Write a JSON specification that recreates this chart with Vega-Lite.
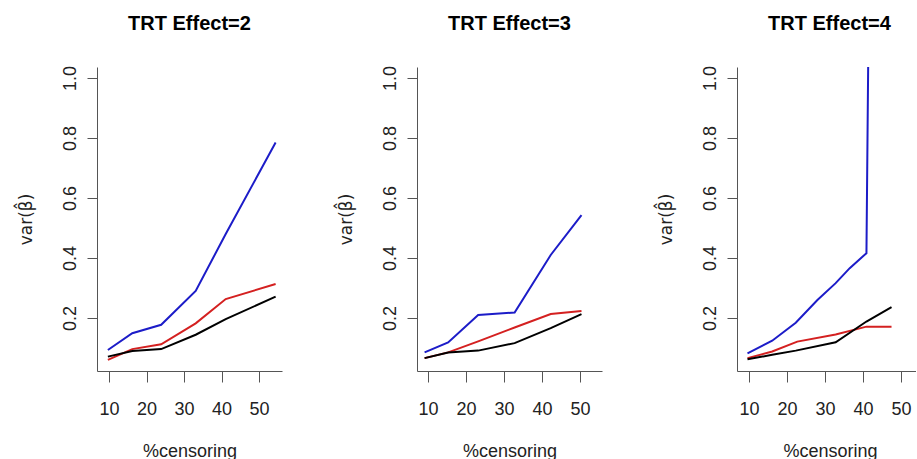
{
  "$schema": "https://vega.github.io/schema/vega-lite/v6.json",
  "background": "white",
  "padding": {"left": 17, "top": 13, "right": 0, "bottom": 0},
  "config": {
    "view": {"stroke": null},
    "font": "Liberation Sans",
    "axis": {
      "grid": false,
      "domainColor": "#555555",
      "tickColor": "#555555",
      "domainWidth": 1,
      "tickWidth": 1,
      "labelFont": "Liberation Sans",
      "labelFontSize": 18,
      "labelColor": "#222222",
      "titleFont": "Liberation Sans",
      "titleFontSize": 18,
      "titleFontWeight": "normal",
      "titleColor": "#222222"
    },
    "axisY": {"titleFont": "DejaVu Sans", "titleFontSize": 17},
    "title": {
      "font": "Liberation Sans",
      "fontSize": 20,
      "fontWeight": "bold",
      "color": "#000000",
      "anchor": "middle",
      "frame": "group",
      "baseline": "alphabetic",
      "offset": 32
    }
  },
  "datasets": {
    "d": [
      {"effect": 2, "method": "m3", "x": 9.7, "y": 0.093},
      {"effect": 2, "method": "m3", "x": 16.2, "y": 0.149},
      {"effect": 2, "method": "m3", "x": 23.9, "y": 0.177},
      {"effect": 2, "method": "m3", "x": 33.1, "y": 0.29},
      {"effect": 2, "method": "m3", "x": 41.1, "y": 0.48},
      {"effect": 2, "method": "m3", "x": 54.4, "y": 0.785},
      {"effect": 2, "method": "m2", "x": 9.7, "y": 0.06},
      {"effect": 2, "method": "m2", "x": 16.2, "y": 0.096},
      {"effect": 2, "method": "m2", "x": 23.9, "y": 0.112},
      {"effect": 2, "method": "m2", "x": 33.1, "y": 0.182},
      {"effect": 2, "method": "m2", "x": 41.1, "y": 0.263},
      {"effect": 2, "method": "m2", "x": 54.4, "y": 0.313},
      {"effect": 2, "method": "m1", "x": 9.7, "y": 0.071},
      {"effect": 2, "method": "m1", "x": 16.2, "y": 0.09},
      {"effect": 2, "method": "m1", "x": 23.9, "y": 0.096},
      {"effect": 2, "method": "m1", "x": 33.1, "y": 0.144},
      {"effect": 2, "method": "m1", "x": 41.1, "y": 0.196},
      {"effect": 2, "method": "m1", "x": 54.4, "y": 0.271},

      {"effect": 3, "method": "m3", "x": 9.1, "y": 0.085},
      {"effect": 3, "method": "m3", "x": 15.3, "y": 0.118},
      {"effect": 3, "method": "m3", "x": 23.2, "y": 0.21},
      {"effect": 3, "method": "m3", "x": 32.8, "y": 0.218},
      {"effect": 3, "method": "m3", "x": 42.3, "y": 0.41},
      {"effect": 3, "method": "m3", "x": 50.4, "y": 0.543},
      {"effect": 3, "method": "m2", "x": 9.1, "y": 0.066},
      {"effect": 3, "method": "m2", "x": 15.3, "y": 0.085},
      {"effect": 3, "method": "m2", "x": 23.2, "y": 0.122},
      {"effect": 3, "method": "m2", "x": 32.8, "y": 0.168},
      {"effect": 3, "method": "m2", "x": 42.3, "y": 0.213},
      {"effect": 3, "method": "m2", "x": 50.4, "y": 0.223},
      {"effect": 3, "method": "m1", "x": 9.1, "y": 0.066},
      {"effect": 3, "method": "m1", "x": 15.3, "y": 0.085},
      {"effect": 3, "method": "m1", "x": 23.2, "y": 0.091},
      {"effect": 3, "method": "m1", "x": 32.8, "y": 0.116},
      {"effect": 3, "method": "m1", "x": 42.3, "y": 0.166},
      {"effect": 3, "method": "m1", "x": 50.4, "y": 0.213},

      {"effect": 4, "method": "m3", "x": 9.6, "y": 0.082},
      {"effect": 4, "method": "m3", "x": 16.1, "y": 0.124},
      {"effect": 4, "method": "m3", "x": 22.3, "y": 0.184},
      {"effect": 4, "method": "m3", "x": 28.0, "y": 0.26},
      {"effect": 4, "method": "m3", "x": 32.8, "y": 0.316},
      {"effect": 4, "method": "m3", "x": 36.5, "y": 0.366},
      {"effect": 4, "method": "m3", "x": 40.9, "y": 0.416},
      {"effect": 4, "method": "m3", "x": 47.5, "y": 9.5},
      {"effect": 4, "method": "m2", "x": 9.6, "y": 0.066},
      {"effect": 4, "method": "m2", "x": 16.1, "y": 0.088},
      {"effect": 4, "method": "m2", "x": 22.7, "y": 0.121},
      {"effect": 4, "method": "m2", "x": 32.8, "y": 0.145},
      {"effect": 4, "method": "m2", "x": 40.9, "y": 0.171},
      {"effect": 4, "method": "m2", "x": 47.5, "y": 0.171},
      {"effect": 4, "method": "m1", "x": 9.6, "y": 0.062},
      {"effect": 4, "method": "m1", "x": 16.1, "y": 0.077},
      {"effect": 4, "method": "m1", "x": 22.3, "y": 0.091},
      {"effect": 4, "method": "m1", "x": 32.8, "y": 0.119},
      {"effect": 4, "method": "m1", "x": 40.9, "y": 0.188},
      {"effect": 4, "method": "m1", "x": 47.5, "y": 0.236}
    ]
  },
  "data": {"name": "d"},
  "spacing": 135,
  "bounds": "flush",
  "hconcat": [
    {
      "title": "TRT Effect=2",
      "width": 185,
      "height": 304,
      "transform": [{"filter": "datum.effect == 2"}],
      "mark": {"type": "line", "strokeWidth": 2, "clip": true},
      "encoding": {
        "x": {"field": "x", "type": "quantitative",
          "scale": {"domain": [6.8, 56.1], "nice": false, "zero": false},
          "axis": {"values": [10, 20, 30, 40, 50], "title": "%censoring", "tickSize": 11, "labelPadding": 32, "labelBaseline": "alphabetic", "titleX": 92.5, "titleY": 85, "titleBaseline": "alphabetic"}},
        "y": {"field": "y", "type": "quantitative",
          "scale": {"domain": [0.023, 1.037], "nice": false, "zero": false},
          "axis": {"values": [0.2, 0.4, 0.6, 0.8, 1.0], "format": ".1f", "title": "var(\u03b2\u0302)", "tickSize": 10, "labelPadding": 12, "labelAngle": 270, "labelAlign": "center", "labelBaseline": "alphabetic", "titleAngle": 270, "titleX": -66, "titleY": 152, "titleAlign": "center", "titleBaseline": "alphabetic"}},
        "color": {"field": "method", "type": "nominal",
          "scale": {"domain": ["m1", "m2", "m3"], "range": ["#000000", "#d42020", "#1c1cc8"]},
          "legend": null}
      }
    },
    {
      "title": "TRT Effect=3",
      "width": 185,
      "height": 304,
      "transform": [{"filter": "datum.effect == 3"}],
      "mark": {"type": "line", "strokeWidth": 2, "clip": true},
      "encoding": {
        "x": {"field": "x", "type": "quantitative",
          "scale": {"domain": [7.1, 55.8], "nice": false, "zero": false},
          "axis": {"values": [10, 20, 30, 40, 50], "title": "%censoring", "tickSize": 11, "labelPadding": 32, "labelBaseline": "alphabetic", "titleX": 92.5, "titleY": 85, "titleBaseline": "alphabetic"}},
        "y": {"field": "y", "type": "quantitative",
          "scale": {"domain": [0.023, 1.037], "nice": false, "zero": false},
          "axis": {"values": [0.2, 0.4, 0.6, 0.8, 1.0], "format": ".1f", "title": "var(\u03b2\u0302)", "tickSize": 10, "labelPadding": 12, "labelAngle": 270, "labelAlign": "center", "labelBaseline": "alphabetic", "titleAngle": 270, "titleX": -66, "titleY": 152, "titleAlign": "center", "titleBaseline": "alphabetic"}},
        "color": {"field": "method", "type": "nominal",
          "scale": {"domain": ["m1", "m2", "m3"], "range": ["#000000", "#d42020", "#1c1cc8"]},
          "legend": null}
      }
    },
    {
      "title": {"text": "TRT Effect=4", "dx": 3},
      "width": 179,
      "height": 304,
      "transform": [{"filter": "datum.effect == 4"}],
      "mark": {"type": "line", "strokeWidth": 2, "clip": true},
      "encoding": {
        "x": {"field": "x", "type": "quantitative",
          "scale": {"domain": [6.84, 53.94], "nice": false, "zero": false},
          "axis": {"values": [10, 20, 30, 40, 50], "title": "%censoring", "tickSize": 11, "labelPadding": 32, "labelBaseline": "alphabetic", "titleX": 93, "titleY": 85, "titleBaseline": "alphabetic"}},
        "y": {"field": "y", "type": "quantitative",
          "scale": {"domain": [0.023, 1.037], "nice": false, "zero": false},
          "axis": {"values": [0.2, 0.4, 0.6, 0.8, 1.0], "format": ".1f", "title": "var(\u03b2\u0302)", "tickSize": 10, "labelPadding": 12, "labelAngle": 270, "labelAlign": "center", "labelBaseline": "alphabetic", "titleAngle": 270, "titleX": -66, "titleY": 152, "titleAlign": "center", "titleBaseline": "alphabetic"}},
        "color": {"field": "method", "type": "nominal",
          "scale": {"domain": ["m1", "m2", "m3"], "range": ["#000000", "#d42020", "#1c1cc8"]},
          "legend": null}
      }
    }
  ]
}
